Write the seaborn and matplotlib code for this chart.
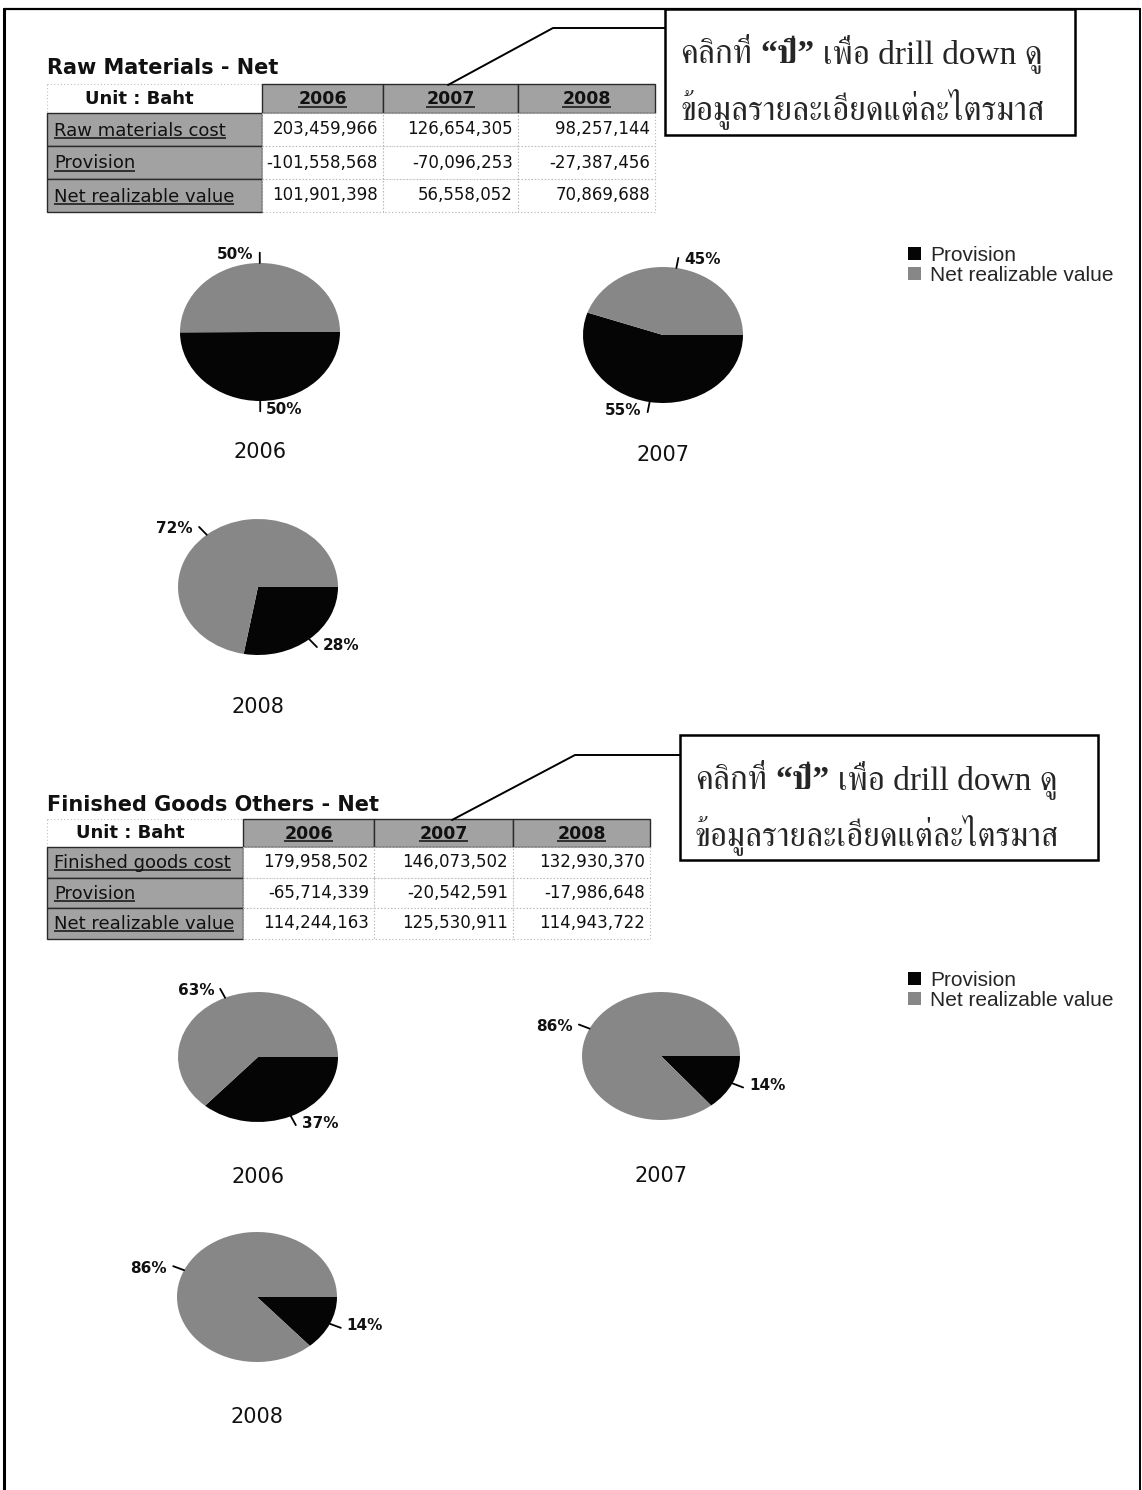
import numpy as np
import matplotlib
matplotlib.use("Agg")
import matplotlib.pyplot as plt
import seaborn as sns
from matplotlib import font_manager
from matplotlib.ft2font import FT2Font
from matplotlib.patches import Rectangle

# ---------------- data ----------------
years = ["2006", "2007", "2008"]
unit_label = "Unit : Baht"

rm_title = "Raw Materials - Net"
rm_rows = ["Raw materials cost", "Provision", "Net realizable value"]
rm_cost = [203459966, 126654305, 98257144]
rm_provision = [-101558568, -70096253, -27387456]
rm_net = [101901398, 56558052, 70869688]

fg_title = "Finished Goods Others - Net"
fg_rows = ["Finished goods cost", "Provision", "Net realizable value"]
fg_cost = [179958502, 146073502, 132930370]
fg_provision = [-65714339, -20542591, -17986648]
fg_net = [114244163, 125530911, 114943722]

slice_names = ["Provision", "Net realizable value"]
note_line1 = ["คลิกที่", "“ปี”", "เพื่อ drill down ดู"]
note_line2 = "ข้อมูลรายละเอียดแต่ละไตรมาส"

# ---------------- style ----------------
sns.set_theme(style="white")
plt.rcParams["font.family"] = ["DejaVu Sans"]

BLACK = "#050505"
GRAY = "#878787"
CELL_GRAY = "#a2a2a2"
W, H = 1142, 1490


def thai_family():
    found = []
    for entry in font_manager.fontManager.ttflist:
        try:
            cmap = FT2Font(entry.fname).get_charmap()
        except Exception:
            continue
        if 0x0E04 in cmap and 0x0E1B in cmap:
            found.append(entry)
    if not found:
        return "DejaVu Sans"
    found.sort(key=lambda e: ("Serif" not in e.name and "Looped" not in e.name,
                              str(e.weight) not in ("400", "normal"), e.name))
    return found[0].name


THAI = thai_family()
NOTE_FAMILY = ["Liberation Serif", THAI, "DejaVu Sans"]

fig = plt.figure(figsize=(W / 100, H / 100), dpi=100)
canvas = fig.add_axes([0, 0, 1, 1])
canvas.set_xlim(0, W)
canvas.set_ylim(H, 0)
canvas.axis("off")
renderer = fig.canvas.get_renderer()


def text_width(t):
    return t.get_window_extent(renderer=renderer).width


def underlined(x, y, s, **kw):
    t = canvas.text(x, y, s, va="baseline", **kw)
    bb = t.get_window_extent(renderer=renderer)
    canvas.plot([bb.x0, bb.x1], [y + 2, y + 2], color=kw.get("color", "black"), lw=1.1,
                solid_capstyle="butt")
    return t


# outer frame
canvas.plot([4, 4], [9, H], color="black", lw=2.2)
canvas.plot([4, 1140], [9, 9], color="black", lw=1.6)
canvas.plot([1140, 1140], [9, H], color="black", lw=1.4)


def draw_table(title, title_y, top, head_h, row_h, edges, row_names, cost, prov, net):
    canvas.text(edges[0], title_y, title, fontsize=15, fontweight="bold",
                va="center", ha="left", color="#111111")
    # header row
    canvas.add_patch(Rectangle((edges[0], top), edges[1] - edges[0], head_h,
                               facecolor="white", edgecolor="#c0c0c0", lw=0.8, ls=(0, (1, 2))))
    canvas.text((edges[0] + edges[1]) / 2 - 15, top + head_h / 2, unit_label, fontsize=13,
                fontweight="bold", ha="center", va="center", color="#111111")
    for j, yr in enumerate(years):
        x0, x1 = edges[j + 1], edges[j + 2]
        canvas.add_patch(Rectangle((x0, top), x1 - x0, head_h, facecolor=CELL_GRAY,
                                   edgecolor="#2a2a2a", lw=1.0))
        t = canvas.text(0, 0, yr, fontsize=12.5, fontweight="bold")
        w = text_width(t)
        t.remove()
        underlined((x0 + x1) / 2 - w / 2, top + head_h / 2 + 6, yr, fontsize=12.5,
                   fontweight="bold", color="#111111", ha="left")
    values = [cost, prov, net]
    for i, name in enumerate(row_names):
        y0 = top + head_h + i * row_h
        canvas.add_patch(Rectangle((edges[0], y0), edges[1] - edges[0], row_h,
                                   facecolor=CELL_GRAY, edgecolor="#2a2a2a", lw=1.0))
        underlined(edges[0] + 7, y0 + row_h / 2 + 6, name, fontsize=13,
                   color="#111111", ha="left")
        for j in range(3):
            x0, x1 = edges[j + 1], edges[j + 2]
            canvas.add_patch(Rectangle((x0, y0), x1 - x0, row_h, facecolor="white",
                                       edgecolor="#b5b5b5", lw=0.8, ls=(0, (1, 2))))
            canvas.text(x1 - 5, y0 + row_h / 2, f"{values[i][j]:,}", fontsize=12,
                        ha="right", va="center", color="#111111")


def draw_note(box, tx, base1, base2, leader):
    x0, y0, x1, y1 = box
    canvas.add_patch(Rectangle((x0, y0), x1 - x0, y1 - y0, facecolor="white",
                               edgecolor="black", lw=1.8, zorder=3))
    lx, ly = zip(*leader)
    canvas.plot(lx, ly, color="black", lw=1.4, zorder=3)
    fs = 24
    cur = tx
    for i, piece in enumerate(note_line1):
        t = canvas.text(cur, base1, piece, fontsize=fs, family=NOTE_FAMILY,
                        fontweight="bold" if i == 1 else "normal",
                        ha="left", va="baseline", zorder=4)
        cur += text_width(t) + 0.25 * fs * 100 / 72
    canvas.text(tx, base2, note_line2, fontsize=fs, family=NOTE_FAMILY,
                ha="left", va="baseline", zorder=4)


def draw_pie(cx, cy, rx, ry, provision, net, year):
    bw, bh = 380, 300
    ax = fig.add_axes([(cx - bw / 2) / W, 1 - (cy + bh / 2) / H, bw / W, bh / H])
    vals = [abs(provision), net]
    wedges, _ = ax.pie(vals, colors=[BLACK, GRAY], startangle=0, counterclock=False,
                       radius=1, wedgeprops=dict(linewidth=0))
    ax.set_aspect("auto")
    ax.set_xlim(-bw / 2 / rx, bw / 2 / rx)
    ax.set_ylim(-bh / 2 / ry, bh / 2 / ry)
    ax.axis("off")
    total = sum(vals)
    for wdg, v in zip(wedges, vals):
        mid = np.deg2rad((wdg.theta1 + wdg.theta2) / 2)
        c, s = np.cos(mid), np.sin(mid)
        ax.plot([c * 1.0, c * 1.15], [s * 1.0, s * 1.15], color="black", lw=1.3)
        side = 1 if c >= 0 else -1
        ax.text(c * 1.15 + side * 6 / rx, s * 1.15 - np.sign(s) * 2 / ry,
                f"{round(100 * v / total)}%", fontsize=11, fontweight="bold",
                ha="left" if side > 0 else "right", va="center", color="#111111")
    canvas.text(cx, cy + 120, year, fontsize=15, ha="center", va="center", color="#111111")
    return wedges


def draw_legend(handles, x, y):
    return fig.legend(handles, slice_names, loc="upper left", bbox_to_anchor=(x, y),
                      bbox_transform=canvas.transData, frameon=False,
                      prop={"family": "Liberation Sans", "size": 15},
                      handlelength=0.6, handleheight=0.6, handletextpad=0.45,
                      labelspacing=0.05, borderpad=0, borderaxespad=0)


# ---------------- Raw materials ----------------
draw_table(rm_title, 68, 84, 29, 33, [47, 262, 383, 518, 655], rm_rows,
           rm_cost, rm_provision, rm_net)
draw_note((665, 9, 1075, 135), 680, 63, 119, [(448, 85), (553, 28), (665, 28)])
rm_pos = [(260, 332, 80, 69), (663, 335, 80, 68), (258, 587, 80, 68)]
handles = None
for j, (cx, cy, rx, ry) in enumerate(rm_pos):
    wd = draw_pie(cx, cy, rx, ry, rm_provision[j], rm_net[j], years[j])
    if handles is None:
        handles = wd
draw_legend(handles, 908, 246)

# ---------------- Finished goods ----------------
draw_table(fg_title, 805, 819, 28, 30.5, [47, 243, 374, 513, 650], fg_rows,
           fg_cost, fg_provision, fg_net)
draw_note((680, 735, 1098, 860), 695, 789, 845, [(452, 820), (575, 755), (680, 755)])
fg_pos = [(258, 1057, 80, 65), (661, 1056, 79, 64), (257, 1297, 80, 65)]
handles = None
for j, (cx, cy, rx, ry) in enumerate(fg_pos):
    wd = draw_pie(cx, cy, rx, ry, fg_provision[j], fg_net[j], years[j])
    if handles is None:
        handles = wd
draw_legend(handles, 908, 971)

fig.savefig("out.png", dpi=100, facecolor="white")
